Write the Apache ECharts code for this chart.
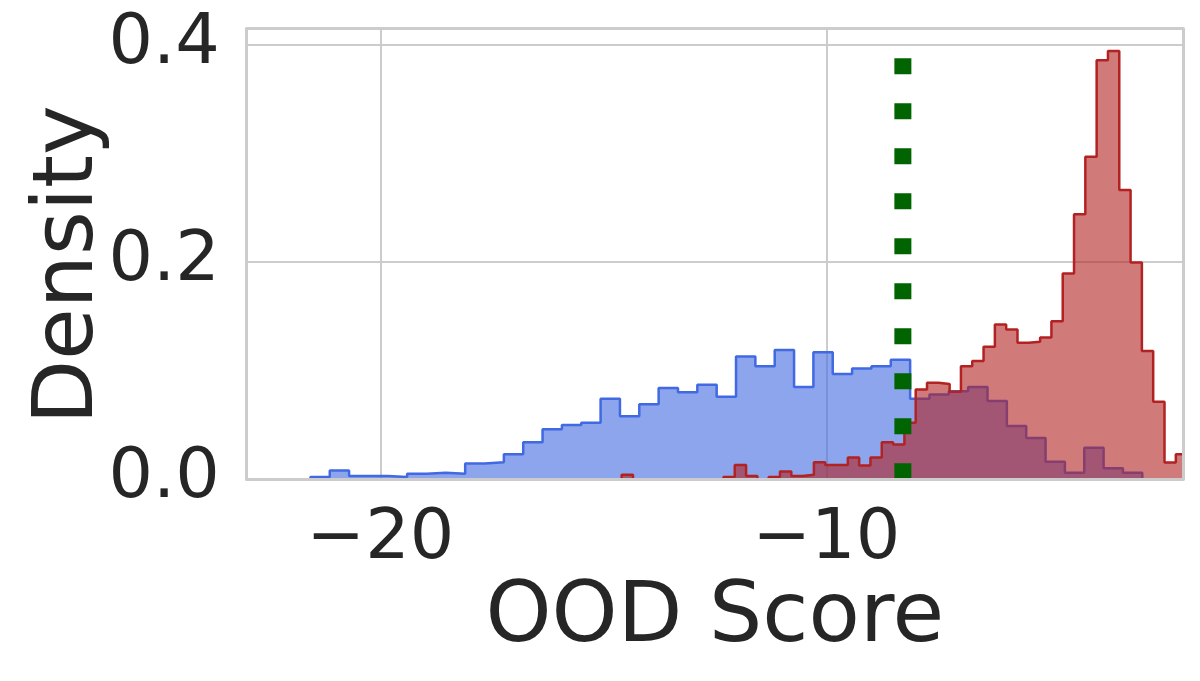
<!DOCTYPE html>
<html>
<head>
<meta charset="utf-8">
<script src="https://cdn.jsdelivr.net/npm/echarts@6/dist/echarts.min.js"></script>
<style>
  html, body { margin: 0; padding: 0; background: #ffffff; }
  #chart { width: 1200px; height: 681px; }
</style>
</head>
<body>
<div id="chart"></div>
<script>
// ---- Data ----
// Blue histogram (in-distribution): bins start and width in OOD-score units, density per bin
const blueStart = -21.571;
const blueWidth = 0.4339;
const blueDensity = [0.002, 0.008, 0.003, 0.003, 0.002, 0.005, 0.006, 0.005, 0.0145, 0.0157,
  0.023, 0.034, 0.046, 0.050, 0.052, 0.074, 0.058, 0.069, 0.084, 0.080,
  0.087, 0.076, 0.113, 0.104, 0.119, 0.085, 0.117, 0.097, 0.102, 0.104,
  0.110, 0.074, 0.078, 0.081, 0.085, 0.072, 0.049, 0.038, 0.016, 0.006,
  0.029, 0.010, 0.006];

// Red histogram (out-of-distribution)
const redStart = -14.590;
const redWidth = 0.25365;
const redDensity = [0.004, 0, 0, 0, 0, 0, 0, 0, 0, 0.002,
  0.013, 0.003, 0, 0.002, 0.007, 0.003, 0.004, 0.0157, 0.013, 0.013,
  0.020, 0.0126, 0.020, 0.034, 0.032, 0.052, 0.0827, 0.0888, 0.0876, 0.0805,
  0.104, 0.109, 0.122, 0.1426, 0.138, 0.1256, 0.1266, 0.1306, 0.1456, 0.1896,
  0.244, 0.297, 0.386, 0.3945, 0.2664, 0.1997, 0.118, 0.0713, 0.0154, 0.023];

// Threshold (green dotted vertical line)
const threshold = -8.283;

// Axes
const xRange = [-23, -2];
const yRange = [0, 0.415];
const xTicks = [-20, -10];
const yTicks = [0.0, 0.2, 0.4];
const xLabel = 'OOD Score';
const yLabel = 'Density';

// ---- Build step outlines from bins ----
function stepPoints(start, width, dens) {
  const pts = [[start, 0]];
  dens.forEach((d, i) => pts.push([start + i * width, d]));
  const end = start + dens.length * width;
  pts.push([end, dens[dens.length - 1]]);
  pts.push([end, 0]);
  return pts;
}

const FONT = 'DejaVu Sans';
const TXT = '#262626';
const GRIDC = '#cccccc';

// frame-only axes (spines drawn above the histograms)
function spineX(pos) {
  return {
    type: 'value', min: xRange[0], max: xRange[1], position: pos, z: 10,
    axisLine: { show: true, onZero: false, lineStyle: { color: GRIDC, width: 3 } },
    axisTick: { show: false }, axisLabel: { show: false }, splitLine: { show: false }
  };
}
function spineY(pos) {
  return {
    type: 'value', min: yRange[0], max: yRange[1], position: pos, z: 10,
    axisLine: { show: true, onZero: false, lineStyle: { color: GRIDC, width: 3 } },
    axisTick: { show: false }, axisLabel: { show: false }, splitLine: { show: false }
  };
}

const chart = echarts.init(document.getElementById('chart'), null, { renderer: 'canvas' });
chart.setOption({
  animation: false,
  backgroundColor: '#ffffff',
  grid: {
    left: 246.7, top: 28.7, width: 936.3, height: 450.5, show: false
  },
  xAxis: [
    {
      type: 'value', min: xRange[0], max: xRange[1], position: 'bottom',
      axisLine: { show: false, onZero: false },
      axisTick: { show: false, customValues: xTicks },
      splitLine: { show: true, lineStyle: { color: GRIDC, width: 2 } },
      axisLabel: {
        customValues: xTicks,
        formatter: v => (v < 0 ? '\u2212' : '') + Math.abs(v),
        fontFamily: FONT, fontSize: 70, color: TXT, margin: 26
      },
      name: xLabel, nameLocation: 'middle', nameGap: 98, nameMoveOverlap: false,
      nameTextStyle: { fontFamily: FONT, fontSize: 84, color: TXT }
    },
    spineX('bottom'),
    spineX('top')
  ],
  yAxis: [
    {
      type: 'value', min: yRange[0], max: yRange[1], interval: 0.2, position: 'left',
      axisLine: { show: false, onZero: false },
      axisTick: { show: false },
      splitLine: { show: true, lineStyle: { color: GRIDC, width: 2 } },
      axisLabel: {
        formatter: v => yTicks.some(t => Math.abs(t - v) < 1e-6) ? v.toFixed(1) : '',
        fontFamily: FONT, fontSize: 70, color: TXT, margin: 27
      },
      name: yLabel, nameLocation: 'middle', nameGap: 135, nameMoveOverlap: false,
      nameTextStyle: { fontFamily: FONT, fontSize: 84, color: TXT, padding: [0, 22, 0, 0] }
    },
    spineY('left'),
    spineY('right')
  ],
  series: [
    {
      type: 'line', step: 'end', symbol: 'none', z: 2,
      data: stepPoints(blueStart, blueWidth, blueDensity),
      lineStyle: { color: '#4169e1', width: 2.5 },
      areaStyle: { color: '#4169e1', opacity: 0.6 }
    },
    {
      type: 'line', step: 'end', symbol: 'none', z: 3,
      data: stepPoints(redStart, redWidth, redDensity),
      lineStyle: { color: '#b22222', width: 2.5 },
      areaStyle: { color: '#b22222', opacity: 0.6 }
    },
    {
      type: 'line', symbol: 'none', z: 4,
      data: [[threshold, yRange[0]], [threshold, yRange[1]]],
      lineStyle: { color: '#006400', width: 17, type: [16, 29], cap: 'butt' }
    }
  ]
});
</script>
</body>
</html>
